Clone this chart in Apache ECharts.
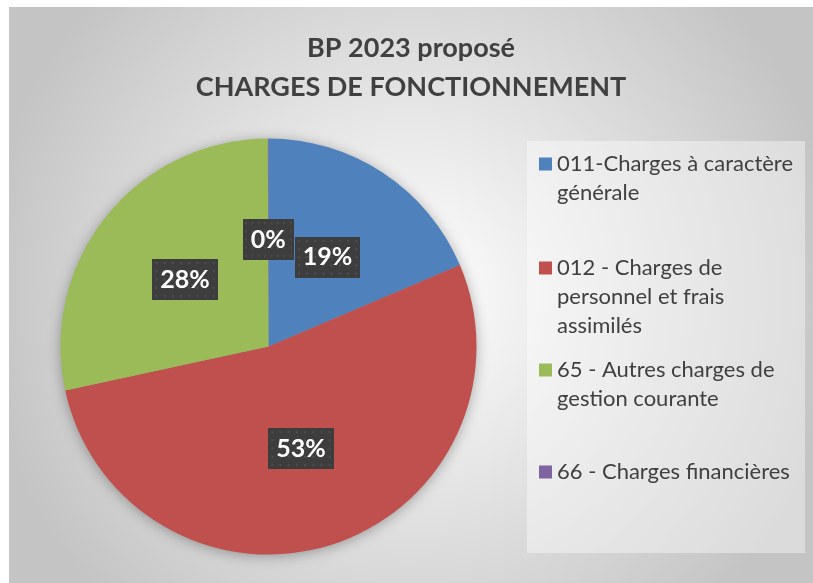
<!DOCTYPE html>
<html>
<head>
<meta charset="utf-8">
<script src="https://cdn.jsdelivr.net/npm/echarts@6/dist/echarts.min.js"></script>
<style>
html,body{margin:0;padding:0;background:#fff;}
#chart{position:absolute;left:9px;top:7px;width:804px;height:576px;}
</style>
</head>
<body>
<div id="chart"></div>
<script>
// ---- data ----
var categories = [
  '011-Charges à caractère générale',
  '012 - Charges de personnel et frais assimilés',
  '65 - Autres charges de gestion courante',
  '66 - Charges financières'
];
var legendLines = [
  ['011-Charges à caractère', 'générale'],
  ['012 - Charges de', 'personnel et frais', 'assimilés'],
  ['65 - Autres charges de', 'gestion courante'],
  ['66 - Charges financières']
];
var values = [18.6, 53.0, 28.35, 0.05];
var colors = ['#4F81BD', '#C0504D', '#9BBB59', '#8064A2'];
var titleLines = ['BP 2023 proposé', 'CHARGES DE FONCTIONNEMENT'];

// ---- styling helpers ----
var LH = 29;
var legendTops = [142.5, 246.5, 348.5, 450.5];

function dotCanvas(w, h) {
  var c = document.createElement('canvas');
  c.width = w; c.height = h;
  var g = c.getContext('2d');
  g.fillStyle = '#3d3d3d';
  g.fillRect(0, 0, w, h);
  g.fillStyle = '#4f4f4f';
  for (var y = 3; y < h; y += 8) {
    for (var x = 3; x < w; x += 8) {
      g.fillRect(x, y, 2, 2);
    }
  }
  return c;
}
var bgImg = dotCanvas(64, 40);

var legends = categories.map(function (name, i) {
  var n = legendLines[i].length;
  var H = n * LH;
  var top = (LH - 13) / 2;
  var icon = 'path://M0,' + top + 'H13V' + (top + 13) + 'H0Z M0,0 M13,' + H;
  return {
    orient: 'vertical',
    left: 530,
    top: legendTops[i],
    padding: 0,
    itemWidth: 13,
    itemHeight: H,
    itemGap: 0,
    selectedMode: false,
    data: [{ name: name, icon: icon }],
    formatter: function (nm) {
      return legendLines[categories.indexOf(nm)].join('\n');
    },
    textStyle: {
      fontFamily: 'Lato',
      fontSize: 22,
      lineHeight: LH,
      color: '#404040'
    }
  };
});

var chart = echarts.init(document.getElementById('chart'), null, { renderer: 'canvas' });
chart.setOption({
  backgroundColor: new echarts.graphic.RadialGradient(0.5, 0.5, 0.75, [
    { offset: 0, color: '#ffffff' },
    { offset: 1, color: '#c4c4c4' }
  ]),
  animation: false,
  title: {
    text: titleLines.join('\n'),
    left: 'center',
    top: 22,
    padding: 0,
    textStyle: {
      fontFamily: 'Lato',
      fontWeight: 'bold',
      fontSize: 27,
      lineHeight: 39,
      color: '#404040'
    }
  },
  graphic: [{
    type: 'rect',
    left: 518, top: 134,
    shape: { width: 278, height: 412 },
    style: { fill: 'rgba(255,255,255,0.4)' },
    z: -1, silent: true
  }],
  legend: legends,
  series: [
    {
      type: 'pie',
      silent: true,
      center: [259.5, 339.5],
      radius: 207,
      z: 1,
      label: { show: false },
      itemStyle: {
        color: '#999',
        shadowBlur: 14,
        shadowColor: 'rgba(0,0,0,0.35)',
        shadowOffsetX: 0,
        shadowOffsetY: 2
      },
      data: [{ value: 1, name: '' }]
    },
    {
      type: 'pie',
      center: [259.5, 339.5],
      radius: 208,
      startAngle: 90,
      clockwise: true,
      z: 2,
      avoidLabelOverlap: false,
      labelLayout: { hideOverlap: false },
      itemStyle: { borderWidth: 0 },
      label: {
        show: true,
        position: 'inside',
        formatter: function (p) { return Math.round(p.percent) + '%'; },
        fontFamily: 'Lato',
        fontWeight: 'bold',
        fontSize: 25,
        color: '#ffffff',
        lineHeight: 26,
        padding: [8, 8, 7, 8],
        backgroundColor: { image: bgImg },
        shadowColor: 'rgba(0,0,0,0.55)',
        shadowBlur: 6,
        shadowOffsetX: 3,
        shadowOffsetY: 3
      },
      labelLine: { show: false },
      data: categories.map(function (c, i) {
        return { name: c, value: values[i], itemStyle: { color: colors[i] } };
      })
    }
  ]
});
</script>
</body>
</html>
